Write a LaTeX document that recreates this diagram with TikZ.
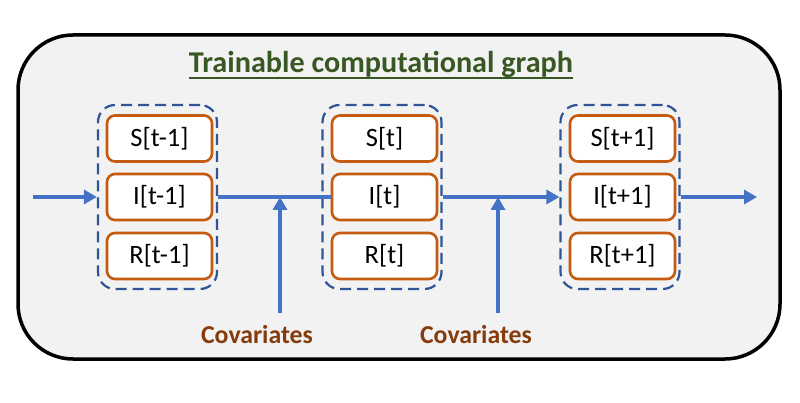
\documentclass[tikz,border=0pt]{standalone}
\usepackage{fontspec}
\setmainfont{Carlito}
\usetikzlibrary{arrows.meta}
\definecolor{bgfill}{HTML}{F2F2F2}
\definecolor{titlegreen}{HTML}{385723}
\definecolor{boxorange}{HTML}{C55A11}
\definecolor{dashblue}{HTML}{2F5597}
\definecolor{arrowblue}{HTML}{4472C4}
\definecolor{covbrown}{HTML}{843C0C}
\tikzset{
  frame/.style={draw=black, line width=3.5pt, fill=bgfill, rounded corners=55pt},
  groupbox/.style={draw=dashblue, line width=2.2pt, dash pattern=on 11pt off 6pt, rounded corners=17pt,
    minimum width=119pt, minimum height=184pt, inner sep=0pt},
  statebox/.style={draw=boxorange, line width=2.6pt, fill=white, rounded corners=8pt,
    minimum width=105pt, minimum height=46pt, inner sep=0pt, font=\fontsize{26.5}{29}\selectfont},
  flow/.style={draw=arrowblue, line width=4.5pt},
  flowarrow/.style={flow, -{Triangle[length=13pt,width=14pt]}},
  covlabel/.style={text=covbrown, font=\fontsize{25.8}{28}\selectfont\bfseries, inner sep=0pt},
}
\begin{document}
\begin{tikzpicture}[x=1pt,y=-1pt]
\useasboundingbox (0,0) rectangle (800,403);
\fill[white] (0,0) rectangle (800,403);
\draw[frame] (18,35) rectangle (780,359);
% title
\node[text=titlegreen, font=\fontsize{30.2}{33}\selectfont\bfseries, inner sep=0pt, anchor=base] (title) at (381,73) {Trainable computational graph};
\draw[titlegreen, line width=2.2pt] ([yshift=-5pt]title.base west) -- ([yshift=-5pt]title.base east);
% groups
\node[groupbox] (g1) at (157.5,197) {};
\node[groupbox] (g2) at (382,197) {};
\node[groupbox] (g3) at (620,197) {};
% states
\node[statebox] (s1) at (159.5,138.5) {S[t-1]};
\node[statebox] (i1) at (159.5,197) {I[t-1]};
\node[statebox] (r1) at (159.5,256) {R[t-1]};
\node[statebox] (s2) at (384.5,138.5) {S[t]};
\node[statebox] (i2) at (384.5,197) {I[t]};
\node[statebox] (r2) at (384.5,256) {R[t]};
\node[statebox] (s3) at (622.5,138.5) {S[t+1]};
\node[statebox] (i3) at (622.5,197) {I[t+1]};
\node[statebox] (r3) at (622.5,256) {R[t+1]};
% flow
\coordinate (in0) at (33,197);
\coordinate (out0) at (757,197);
\draw[flowarrow] (in0) -- (g1.west);
\draw[flow] (g1.east) -- (i2.west);
\draw[flowarrow] (g2.east) -- (g3.west);
\draw[flowarrow] (g3.east) -- (out0);
% covariates
\node[covlabel] (cov1) at (257,335) {Covariates};
\node[covlabel] (cov2) at (476,335) {Covariates};
\coordinate (c1s) at (280,313);
\coordinate (c1e) at (280,197);
\coordinate (c2s) at (498,313);
\coordinate (c2e) at (498,197);
\draw[flowarrow] (c1s) -- (c1e);
\draw[flowarrow] (c2s) -- (c2e);
\end{tikzpicture}
\end{document}
